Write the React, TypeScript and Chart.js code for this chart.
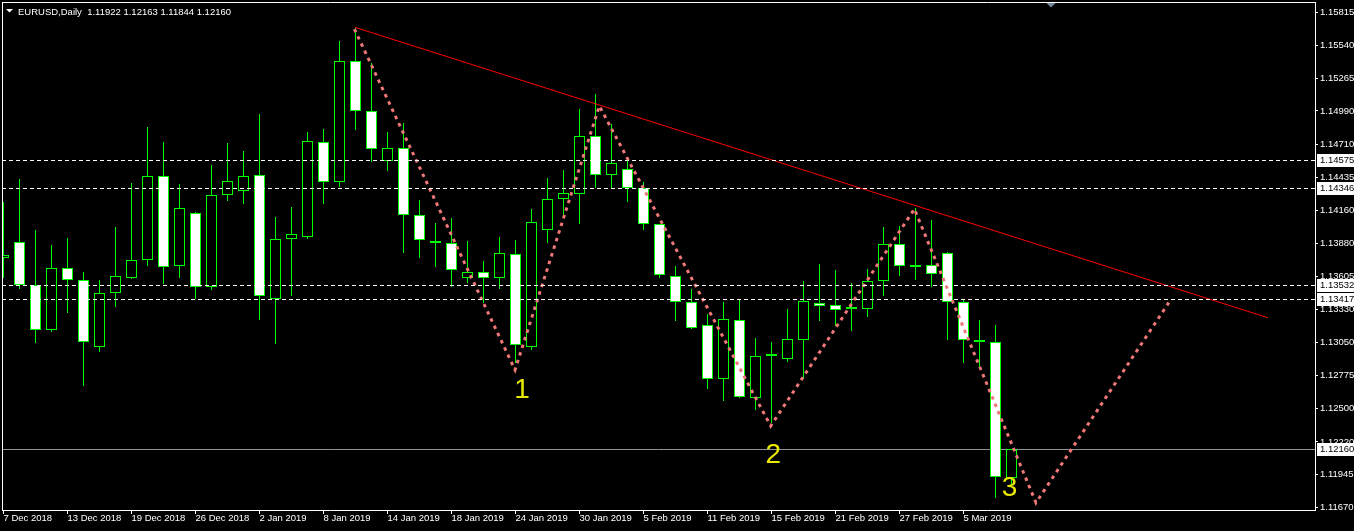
import React, { useEffect, useRef } from 'react';
import { Chart, registerables } from 'chart.js';

Chart.register(...registerables);

// ---------------- data ----------------
const symbolTitle = 'EURUSD,Daily';

const dates = [
  '7 Dec 2018', '10 Dec 2018', '11 Dec 2018', '12 Dec 2018', '13 Dec 2018', '14 Dec 2018', '17 Dec 2018', '18 Dec 2018',
  '19 Dec 2018', '20 Dec 2018', '21 Dec 2018', '24 Dec 2018', '26 Dec 2018', '27 Dec 2018', '28 Dec 2018', '31 Dec 2018',
  '2 Jan 2019', '3 Jan 2019', '4 Jan 2019', '7 Jan 2019', '8 Jan 2019', '9 Jan 2019', '10 Jan 2019', '11 Jan 2019',
  '14 Jan 2019', '15 Jan 2019', '16 Jan 2019', '17 Jan 2019', '18 Jan 2019', '21 Jan 2019', '22 Jan 2019', '23 Jan 2019',
  '24 Jan 2019', '25 Jan 2019', '28 Jan 2019', '29 Jan 2019', '30 Jan 2019', '31 Jan 2019', '1 Feb 2019', '4 Feb 2019',
  '5 Feb 2019', '6 Feb 2019', '7 Feb 2019', '8 Feb 2019', '11 Feb 2019', '12 Feb 2019', '13 Feb 2019', '14 Feb 2019',
  '15 Feb 2019', '18 Feb 2019', '19 Feb 2019', '20 Feb 2019', '21 Feb 2019', '22 Feb 2019', '25 Feb 2019', '26 Feb 2019',
  '27 Feb 2019', '28 Feb 2019', '1 Mar 2019', '4 Mar 2019', '5 Mar 2019', '6 Mar 2019', '7 Mar 2019', '8 Mar 2019',
];

const opens = [
  1.13756, 1.13890, 1.13536, 1.13154, 1.13673, 1.13572, 1.13012, 1.13464,
  1.13589, 1.13740, 1.14443, 1.13695, 1.14133, 1.13514, 1.14284, 1.14317,
  1.14451, 1.13413, 1.13915, 1.13932, 1.14727, 1.14392, 1.15405, 1.14987,
  1.14568, 1.14677, 1.14116, 1.13901, 1.13882, 1.13589, 1.13639, 1.13589,
  1.13790, 1.13017, 1.13996, 1.14250, 1.14297, 1.14777, 1.14451, 1.14501,
  1.14342, 1.14041, 1.13611, 1.13388, 1.13196, 1.12749, 1.13238, 1.12585,
  1.12936, 1.12911, 1.13070, 1.13385, 1.13363, 1.13330, 1.13330, 1.13564,
  1.13874, 1.13681, 1.13698, 1.13798, 1.13388, 1.13056, 1.13054, 1.11922,
];

const highs = [
  1.14230, 1.14420, 1.13993, 1.13868, 1.13924, 1.13642, 1.13575, 1.14016,
  1.14384, 1.14855, 1.14730, 1.14378, 1.14144, 1.14537, 1.14721, 1.14654,
  1.14964, 1.14102, 1.14186, 1.14813, 1.14838, 1.15575, 1.15689, 1.15393,
  1.14813, 1.14886, 1.14244, 1.14052, 1.14091, 1.13901, 1.13734, 1.13935,
  1.13910, 1.14169, 1.14428, 1.14495, 1.15006, 1.15131, 1.14880, 1.14579,
  1.14392, 1.14045, 1.13692, 1.13497, 1.13288, 1.13388, 1.13408, 1.13087,
  1.13054, 1.13332, 1.13567, 1.13709, 1.13659, 1.13550, 1.13667, 1.14018,
  1.14024, 1.14175, 1.14077, 1.13809, 1.13408, 1.13240, 1.13198, 1.12163,
];

const lows = [
  1.13589, 1.13497, 1.13050, 1.13142, 1.13301, 1.12690, 1.12970, 1.13352,
  1.13581, 1.13695, 1.13541, 1.13594, 1.13413, 1.13491, 1.14238, 1.14207,
  1.13243, 1.13042, 1.13443, 1.13918, 1.14213, 1.14356, 1.14830, 1.14565,
  1.14490, 1.13803, 1.13762, 1.13686, 1.13519, 1.13552, 1.13380, 1.13497,
  1.12878, 1.12989, 1.13887, 1.14096, 1.14046, 1.14347, 1.14334, 1.14230,
  1.13993, 1.13594, 1.13234, 1.13167, 1.12665, 1.12565, 1.12590, 1.12487,
  1.12376, 1.12886, 1.12744, 1.13234, 1.13193, 1.13148, 1.13268, 1.13443,
  1.13611, 1.13577, 1.13519, 1.13073, 1.12883, 1.12836, 1.11753, 1.11844,
];

const closes = [
  1.13782, 1.13536, 1.13154, 1.13673, 1.13572, 1.13054, 1.13464, 1.13606,
  1.13740, 1.14443, 1.13686, 1.14175, 1.13514, 1.14284, 1.14401, 1.14443,
  1.13439, 1.13915, 1.13957, 1.14736, 1.14392, 1.15405, 1.14987, 1.14669,
  1.14677, 1.14116, 1.13907, 1.13885, 1.13656, 1.13639, 1.13589, 1.13798,
  1.13029, 1.14058, 1.14250, 1.14300, 1.14777, 1.14451, 1.14551, 1.14342,
  1.14041, 1.13614, 1.13388, 1.13171, 1.12749, 1.13246, 1.12593, 1.12936,
  1.12941, 1.13079, 1.13397, 1.13355, 1.13321, 1.13346, 1.13564, 1.13874,
  1.13690, 1.13698, 1.13623, 1.13388, 1.13070, 1.13060, 1.11924, 1.12160,
];

// x-axis: every 4th bar is labelled
const xTickIndexes = [0, 4, 8, 12, 16, 20, 24, 28, 32, 36, 40, 44, 48, 52, 56, 60];

// price axis ticks
const yTicks = [
  1.15815, 1.15540, 1.15265, 1.14990, 1.14710, 1.14435, 1.14160, 1.13880,
  1.13605, 1.13330, 1.13050, 1.12775, 1.12500, 1.12220, 1.11945, 1.11670,
];

// dashed horizontal levels and the bid line
const levelPrices = [1.14575, 1.14346, 1.13532, 1.13417];
const bidPrice = 1.12160;

// red trend line (bar index, price)
const trendX = [21.97, 79.03];
const trendY = [1.15689, 1.13259];

// dotted zig-zag
const zigzagX = [21.93, 31.97, 37.24, 47.95, 56.93, 64.53, 72.83];
const zigzagY = [1.15675, 1.12822, 1.15031, 1.12353, 1.14169, 1.11711, 1.13385];

// wave labels
const waveText = ['1', '2', '3'];
const waveX = [32.41, 48.11, 62.88];
const waveY = [1.12671, 1.12131, 1.11849];

// visible ranges
const X_MIN = -0.09375;
const X_MAX = 81.96875;
const Y_MIN = 1.1165015;
const Y_MAX = 1.159012;

// ---------------- helpers ----------------
function hasNarrowFont(): boolean {
  try {
    const c = document.createElement('canvas').getContext('2d');
    if (!c) return false;
    c.font = '20px "Liberation Sans Narrow", monospace';
    const a = c.measureText('EURUSD 1.15815 Dec').width;
    c.font = '20px monospace';
    const b = c.measureText('EURUSD 1.15815 Dec').width;
    return Math.abs(a - b) > 1;
  } catch (e) {
    return false;
  }
}

export default function App() {
  const ref = useRef<HTMLCanvasElement | null>(null);

  useEffect(() => {
    document.body.style.margin = '0';
    document.body.style.background = '#000';
    const canvas = ref.current;
    if (!canvas) return;

    const narrow = hasNarrowFont();
    const family = narrow ? '"Liberation Sans Narrow", "Liberation Sans", Arial, sans-serif' : '"Liberation Sans", Arial, sans-serif';
    const size = narrow ? 11 : 9.5;
    const fontStr = `${size}px ${family}`;

    const candleIdx = dates.map((_, i) => i);

    const mt4Plugin = {
      id: 'mt4look',
      beforeDraw(chart: any) {
        const { ctx, width, height } = chart;
        ctx.save();
        ctx.fillStyle = '#000000';
        ctx.fillRect(0, 0, width, height);
        ctx.restore();
      },
      afterDatasetsUpdate(chart: any) {
        chart.data.datasets.forEach((ds: any, di: number) => {
          if (ds.type !== 'bar') return;
          const meta = chart.getDatasetMeta(di);
          meta.data.forEach((el: any) => {
            el.y = Math.round(el.y);
            el.base = Math.round(el.base);
          });
        });
      },
      beforeDatasetsDraw(chart: any) {
        const { ctx, chartArea: a, scales } = chart;
        const py = Math.round(scales.y.getPixelForValue(bidPrice)) + 0.5;
        ctx.save();
        ctx.strokeStyle = '#8c949c';
        ctx.lineWidth = 1;
        ctx.beginPath();
        ctx.moveTo(a.left, py);
        ctx.lineTo(a.right, py);
        ctx.stroke();
        ctx.restore();
      },
      afterDatasetsDraw(chart: any) {
        const { ctx, chartArea: a, scales } = chart;
        ctx.save();
        ctx.beginPath();
        ctx.rect(a.left, a.top, a.right - a.left, a.bottom - a.top);
        ctx.clip();
        // dashed levels
        ctx.strokeStyle = '#ffffff';
        ctx.lineWidth = 1;
        ctx.setLineDash([4, 3]);
        levelPrices.forEach((p) => {
          const py = Math.round(scales.y.getPixelForValue(p)) + 0.5;
          ctx.beginPath();
          ctx.moveTo(a.left, py);
          ctx.lineTo(a.right, py);
          ctx.stroke();
        });
        ctx.setLineDash([]);
        // wave labels
        const fs = 28;
        ctx.font = `${fs}px "Liberation Sans", Arial, sans-serif`;
        ctx.fillStyle = '#e8e800';
        ctx.textAlign = 'center';
        ctx.textBaseline = 'alphabetic';
        waveText.forEach((t, i) => {
          const px = scales.x.getPixelForValue(waveX[i]);
          const py = scales.y.getPixelForValue(waveY[i]);
          ctx.fillText(t, px, py + fs * 0.358);
        });
        ctx.restore();
      },
      afterDraw(chart: any) {
        const { ctx, chartArea: a, scales, width } = chart;
        ctx.save();
        // frame top / left
        ctx.strokeStyle = '#ffffff';
        ctx.lineWidth = 1;
        ctx.beginPath();
        ctx.moveTo(a.left, a.top + 0.5);
        ctx.lineTo(a.right + 1, a.top + 0.5);
        ctx.moveTo(a.left + 0.5, a.top);
        ctx.lineTo(a.left + 0.5, a.bottom + 1);
        ctx.stroke();

        // header
        ctx.fillStyle = '#ffffff';
        ctx.beginPath();
        ctx.moveTo(6, 9);
        ctx.lineTo(13, 9);
        ctx.lineTo(9.5, 12.5);
        ctx.closePath();
        ctx.fill();
        const n = closes.length - 1;
        const header = `${symbolTitle}  ${opens[n].toFixed(5)} ${highs[n].toFixed(5)} ${lows[n].toFixed(5)} ${closes[n].toFixed(5)}`;
        ctx.font = fontStr;
        ctx.textAlign = 'left';
        ctx.textBaseline = 'alphabetic';
        ctx.fillText(header, 18, 15);

        // chart-shift marker
        ctx.fillStyle = '#74879a';
        ctx.beginPath();
        ctx.moveTo(1046.5, 3);
        ctx.lineTo(1055.5, 3);
        ctx.lineTo(1051, 7.5);
        ctx.closePath();
        ctx.fill();

        // price boxes on the axis
        const boxes = [...levelPrices, bidPrice];
        boxes.forEach((p) => {
          const py = Math.round(scales.y.getPixelForValue(p));
          ctx.fillStyle = '#ffffff';
          ctx.fillRect(a.right + 2, py - 6, width - a.right - 2, 13);
          ctx.fillStyle = '#000000';
          ctx.textBaseline = 'middle';
          ctx.fillText(p.toFixed(5), a.right + 5, py + 0.5);
        });
        ctx.restore();
      },
    };

    const chart = new Chart(canvas, {
      type: 'bar',
      data: {
        datasets: [
          {
            type: 'line',
            label: 'zigzag',
            data: zigzagX.map((x, i) => ({ x, y: zigzagY[i] })),
            borderColor: '#f07878',
            borderWidth: 3,
            borderDash: [3.5, 4.5],
            borderCapStyle: 'butt',
            pointRadius: 0,
            fill: false,
            tension: 0,
            order: 0,
          } as any,
          {
            type: 'line',
            label: 'trend',
            data: trendX.map((x, i) => ({ x, y: trendY[i] })),
            borderColor: '#ff0000',
            borderWidth: 1,
            pointRadius: 0,
            fill: false,
            tension: 0,
            order: 1,
          } as any,
          {
            type: 'bar',
            label: 'body',
            data: candleIdx.map((i) => ({ x: i, y: [opens[i], closes[i]] })),
            backgroundColor: candleIdx.map((i) => (closes[i] >= opens[i] ? '#000000' : '#ffffff')),
            borderColor: '#00ff00',
            borderWidth: 1,
            borderSkipped: false,
            barThickness: 11,
            minBarLength: 2,
            inflateAmount: 0,
            grouped: false,
            order: 2,
          } as any,
          {
            type: 'bar',
            label: 'wick',
            data: candleIdx.map((i) => ({ x: i, y: [lows[i], highs[i]] })),
            backgroundColor: '#00ff00',
            borderWidth: 0,
            barThickness: 1,
            inflateAmount: 0,
            grouped: false,
            order: 3,
          } as any,
        ],
      },
      options: {
        responsive: false,
        maintainAspectRatio: false,
        devicePixelRatio: 1,
        animation: false,
        events: [],
        layout: { padding: { left: 2, top: 2, right: 0, bottom: 0 } },
        plugins: { legend: { display: false }, tooltip: { enabled: false } },
        scales: {
          x: {
            type: 'linear',
            position: 'bottom',
            min: X_MIN,
            max: X_MAX,
            offset: false,
            grid: { display: true, drawOnChartArea: false, drawTicks: true, tickLength: 4, color: '#ffffff', offset: false },
            border: { display: true, color: '#ffffff', width: 1 },
            ticks: {
              color: '#ffffff',
              font: { family, size, lineHeight: 1 },
              autoSkip: false,
              maxRotation: 0,
              minRotation: 0,
              align: 'start',
              padding: 0,
              callback: (v: any) => dates[Number(v)] ?? '',
            },
            afterBuildTicks: (s: any) => {
              s.ticks = xTickIndexes.map((v) => ({ value: v }));
            },
            afterFit: (s: any) => {
              s.height = 21;
              s.paddingLeft = 0;
              s.paddingRight = 0;
            },
          },
          y: {
            type: 'linear',
            position: 'right',
            min: Y_MIN,
            max: Y_MAX,
            grid: { display: true, drawOnChartArea: false, drawTicks: true, tickLength: 3, color: '#ffffff' },
            border: { display: true, color: '#ffffff', width: 1 },
            ticks: {
              color: '#ffffff',
              font: { family, size, lineHeight: 1 },
              autoSkip: false,
              padding: 2,
              callback: (v: any) => Number(v).toFixed(5),
            },
            afterBuildTicks: (s: any) => {
              s.ticks = yTicks.map((v) => ({ value: v }));
            },
            afterFit: (s: any) => {
              s.width = 39;
              s.paddingTop = 0;
              s.paddingBottom = 0;
            },
          },
        },
      } as any,
      plugins: [mt4Plugin],
    });

    return () => chart.destroy();
  }, []);

  return (
    <div style={{ position: 'fixed', left: 0, top: 0, width: 1354, height: 531, background: '#000' }}>
      <canvas ref={ref} width={1354} height={531} style={{ display: 'block', width: 1354, height: 531 }} />
    </div>
  );
}
